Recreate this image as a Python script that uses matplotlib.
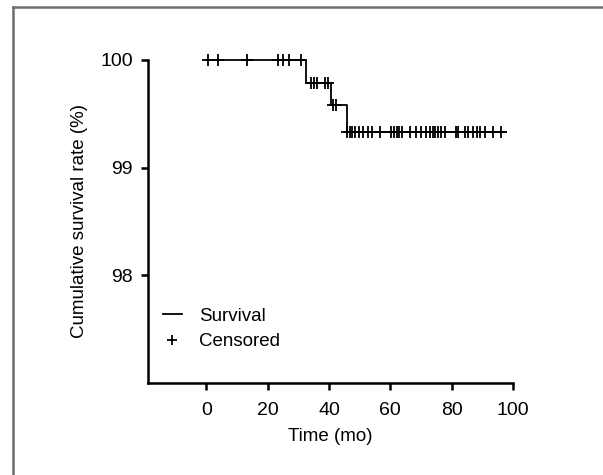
import matplotlib
matplotlib.use("Agg")
import matplotlib.pyplot as plt
from matplotlib.lines import Line2D

plt.rcParams['font.family'] = ['Liberation Sans', 'DejaVu Sans']

# step curve (Kaplan-Meier)
step_times = [0, 32.4, 40.6, 45.9, 97.6]
step_rates = [100, 99.79, 99.58, 99.33, 99.33]

# censored observations, grouped by survival level
cens_100 = [0.7, 3.8, 13.3, 23.4, 25.1, 27.0, 31.0]
cens_9979 = [34.0, 35.0, 36.0, 38.8, 39.8]
cens_9958 = [41.3, 42.2]
cens_9933 = [46.0, 46.8, 47.6, 48.6, 49.7, 51.0, 52.8, 54.2, 56.5,
             60.3, 61.2, 62.2, 63.0, 63.8, 66.5, 68.5, 70.0, 71.5, 72.8,
             73.8, 74.6, 75.5, 76.5, 77.7, 81.3, 82.2, 84.2, 85.3, 86.9,
             88.2, 89.3, 91.0, 93.4, 96.2]

x_ticks = [0, 20, 40, 60, 80, 100]
y_ticks = [98, 99, 100]

fig = plt.figure(figsize=(6.03, 4.75), dpi=100)
ax = fig.add_axes([0.2454, 0.1937, 0.6053, 0.68])

ax.step(step_times, step_rates, where='post', color='black', lw=1.3, label='Survival',
        clip_on=False)

cens_x = cens_100 + cens_9979 + cens_9958 + cens_9933
cens_y = ([100] * len(cens_100) + [99.79] * len(cens_9979)
          + [99.58] * len(cens_9958) + [99.33] * len(cens_9933))
ax.plot(cens_x, cens_y, ls='none', marker='+', ms=9, mew=1.3, color='black',
        label='Censored', clip_on=False)

ax.set_xlim(-19, 100)
ax.set_ylim(97, 100)
ax.set_xticks(x_ticks)
ax.set_yticks(y_ticks)
ax.tick_params(labelsize=14, width=1.8, length=5, color='black')
ax.tick_params(axis='x', pad=9)
ax.tick_params(axis='y', pad=6)

for s in ['top', 'right']:
    ax.spines[s].set_visible(False)
for s in ['left', 'bottom']:
    ax.spines[s].set_linewidth(1.8)

ax.set_xlabel('Time (mo)', fontsize=13.5, labelpad=6)
ax.set_ylabel('Cumulative survival rate (%)', fontsize=13.5, labelpad=9)

ax.legend(loc='upper left', bbox_to_anchor=(-0.005, 0.285), frameon=False, fontsize=13.5,
          handlelength=1.0, handletextpad=0.9, labelspacing=0.45, markerscale=0.8)

# grey frame around the figure
fig.add_artist(Line2D([13 / 603, 13 / 603], [0, 1 - 7 / 475], color='#6e6e6e', lw=1.8))
fig.add_artist(Line2D([13 / 603, 1], [1 - 7 / 475, 1 - 7 / 475], color='#6e6e6e', lw=1.8))

fig.savefig('out.png', dpi=100)
